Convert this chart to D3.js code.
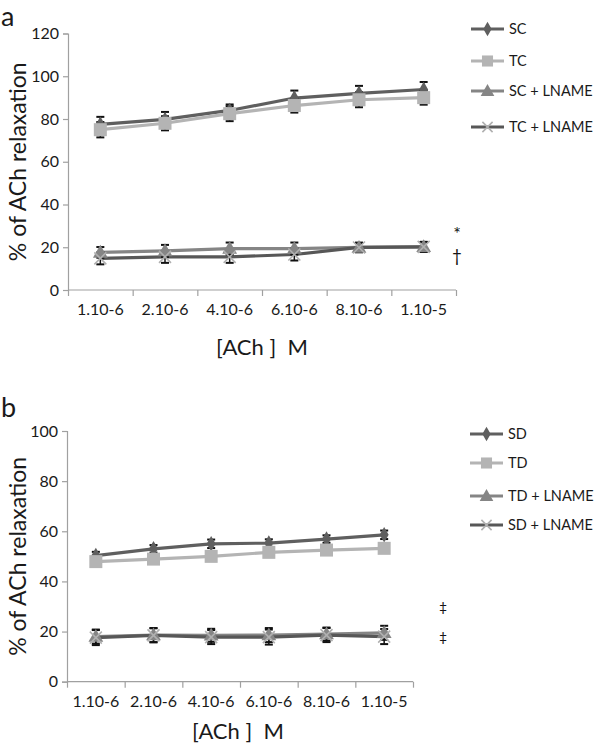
<!DOCTYPE html>
<html><head><meta charset="utf-8">
<script src="https://cdn.jsdelivr.net/npm/d3@7/dist/d3.min.js"></script>
<style>body{margin:0;background:#fff}svg{display:block}text{font-family:Lato,"Open Sans",sans-serif;fill:#1a1a1a}</style>
</head><body><svg id="c" width="600" height="744"></svg>
<script>
const categories = ["1.10-6","2.10-6","4.10-6","6.10-6","8.10-6","1.10-5"];
// Panel a
const aSC = [77.5, 79.8, 84, 89.8, 92, 93.8];
const aSCerr = [3.5, 3.5, 2.8, 3.5, 3.5, 3.5];
const aTC = [75, 78, 82.5, 86.3, 89, 90];
const aTCerr = [3.6, 3.3, 3.5, 3.3, 3.5, 3.3];
const aSCL = [17.6, 18.3, 19.4, 19.4, 19.9, 20.2];
const aSCLerr = [2.5, 2.8, 2.8, 2.8, 2.2, 2.3];
const aTCL = [14.8, 15.5, 15.5, 16.6, 19.9, 20.2];
const aTCLerr = [2.8, 2.8, 2.8, 2.8, 2.2, 2.3];
const aTicks = [0, 20, 40, 60, 80, 100, 120];
// Panel b
const bSD = [50.3, 53, 55, 55.3, 56.9, 58.6];
const bSDerr = [1.5, 1.5, 1.7, 1.5, 1.5, 1.7];
const bTD = [47.9, 48.9, 50, 51.6, 52.5, 53.2];
const bTDerr = [1.2, 1.2, 1.2, 1.2, 1.2, 1.2];
const bTDL = [18, 18.6, 18.5, 18.6, 19, 19.5];
const bTDLerr = [2.8, 2.8, 2.6, 2.8, 2.6, 2.8];
const bSDL = [17.6, 18.5, 17.8, 17.8, 18.6, 18];
const bSDLerr = [3, 2.8, 2.8, 3, 2.8, 3];
const bTicks = [0, 20, 40, 60, 80, 100];

const svg = d3.select("#c");

function panel(cfg) {
  const g = svg.append("g");
  const x = d3.scaleBand().domain(categories).range([cfg.x0, cfg.x1]);
  const xi = d3.scaleLinear().domain([0, categories.length]).range([cfg.x0, cfg.x1]);
  const y = d3.scaleLinear().domain([0, cfg.ymax]).range([cfg.yb, cfg.yt]);

  // y axis
  const ya = g.append("g").attr("transform", `translate(${cfg.x0},0)`)
    .call(d3.axisLeft(y).tickValues(cfg.ticks).tickSize(5).tickPadding(4));
  ya.select(".domain").attr("stroke", "#a0a0a0").attr("stroke-width", 1.2);
  ya.selectAll(".tick line").attr("stroke", "#a0a0a0").attr("stroke-width", 1.2);
  ya.selectAll(".tick text").style("font-size", "16px").style("font-family", "Lato, sans-serif").attr("fill", "#1a1a1a");

  // x axis: boundaries
  const xa = g.append("g").attr("transform", `translate(0,${cfg.yb})`)
    .call(d3.axisBottom(xi).tickValues(d3.range(categories.length + 1)).tickSize(6).tickFormat(""));
  xa.select(".domain").attr("stroke", "#a0a0a0").attr("stroke-width", 1.2).attr("d", `M${cfg.x0},0H${cfg.x1}`);
  xa.selectAll(".tick line").attr("stroke", "#a0a0a0").attr("stroke-width", 1.2);
  const xl = g.append("g").attr("transform", `translate(0,${cfg.yb})`)
    .call(d3.axisBottom(x).tickSize(0).tickPadding(14));
  xl.select(".domain").remove();
  xl.selectAll(".tick text").style("font-size", "16px").style("font-family", "Lato, sans-serif").attr("fill", "#1a1a1a");

  // labels
  g.append("text").attr("x", cfg.labX).attr("y", cfg.labY).text(cfg.letter).style("font-size", "27px");
  g.append("text").attr("transform", `translate(${cfg.ylabX},${(cfg.yb + cfg.yt) / 2 + cfg.ylabDy}) rotate(-90)`)
    .attr("text-anchor", "middle").style("font-size", "23px").text("% of ACh relaxation");
  g.append("text").attr("x", cfg.xtX).attr("y", cfg.xtY).attr("text-anchor", "middle")
    .style("font-size", "22px").attr("xml:space", "preserve").text("[ACh ]  M");

  const cx = (d, i) => x(categories[i]) + x.bandwidth() / 2;
  const line = d3.line().x((d, i) => cx(d, i)).y(d => y(d));

  cfg.series.forEach(s => {
    g.append("path").datum(s.vals).attr("fill", "none").attr("stroke", s.color).attr("stroke-width", 3.2).attr("d", line);
  });
  cfg.series.forEach(s => {
    const eb = g.append("g");
    s.vals.forEach((v, i) => {
      const px = cx(v, i);
      const t = y(v + s.err[i]), b = y(v - s.err[i]);
      eb.append("line").attr("x1", px).attr("x2", px).attr("y1", t).attr("y2", b).attr("stroke", "#111").attr("stroke-width", 1.5);
      eb.append("line").attr("x1", px - 4).attr("x2", px + 4).attr("y1", t).attr("y2", t).attr("stroke", "#111").attr("stroke-width", 2);
      eb.append("line").attr("x1", px - 4).attr("x2", px + 4).attr("y1", b).attr("y2", b).attr("stroke", "#111").attr("stroke-width", 2);
    });
  });
  cfg.series.forEach(s => {
    s.vals.forEach((v, i) => drawMarker(g, s.marker, cx(v, i), y(v), s.mcolor));
  });

  // legend
  cfg.series.forEach((s, k) => {
    const ly = cfg.legY[k];
    g.append("line").attr("x1", cfg.legX).attr("x2", cfg.legX + 33).attr("y1", ly).attr("y2", ly)
      .attr("stroke", s.color).attr("stroke-width", 3.2);
    drawMarker(g, s.marker, cfg.legX + 16.5, ly, s.mcolor, 0.85);
    g.append("text").attr("x", cfg.legX + 38).attr("y", ly).attr("dy", "0.35em").style("font-size", "14.5px").text(s.name);
  });

  cfg.notes.forEach(n => {
    g.append("text").attr("x", n.x).attr("y", n.y).attr("text-anchor", "middle").style("font-size", n.size + "px")
      .style("fill", "#111").text(n.t);
  });
}

function drawMarker(g, type, px, py, color, sc = 1) {
  if (type === "diamond") {
    g.append("path").attr("d", d3.symbol(d3.symbolDiamond, 70 * sc)()).attr("transform", `translate(${px},${py})`).attr("fill", color);
  } else if (type === "square") {
    const s = 13 * sc;
    g.append("rect").attr("x", px - s / 2).attr("y", py - s / 2).attr("width", s).attr("height", s).attr("fill", color);
  } else if (type === "triangle") {
    g.append("path").attr("d", d3.symbol(d3.symbolTriangle, 95 * sc)()).attr("transform", `translate(${px},${py + 1})`).attr("fill", color);
  } else if (type === "x") {
    const s = 6 * sc;
    g.append("path").attr("d", `M${px - s},${py - s}L${px + s},${py + s}M${px - s},${py + s}L${px + s},${py - s}`)
      .attr("stroke", color).attr("stroke-width", 1.6).attr("fill", "none");
  }
}

panel({
  letter: "a", labX: 1, labY: 26,
  x0: 68, x1: 456, yb: 290, yt: 33.5, ymax: 120, ticks: aTicks,
  ylabX: 26, ylabDy: 0, xtX: 262, xtY: 355,
  legX: 471, legY: [29, 61, 91, 127],
  series: [
    { name: "SC", vals: aSC, err: aSCerr, color: "#5f5f5f", mcolor: "#5f5f5f", marker: "diamond" },
    { name: "TC", vals: aTC, err: aTCerr, color: "#b4b4b4", mcolor: "#b4b4b4", marker: "square" },
    { name: "SC + LNAME", vals: aSCL, err: aSCLerr, color: "#858585", mcolor: "#858585", marker: "triangle" },
    { name: "TC + LNAME", vals: aTCL, err: aTCLerr, color: "#575757", mcolor: "#b0b0b0", marker: "x" }
  ],
  notes: [{ t: "*", x: 457, y: 240, size: 18 }, { t: "†", x: 457, y: 262, size: 17 }]
});

panel({
  letter: "b", labX: 1, labY: 417,
  x0: 67, x1: 413, yb: 681.7, yt: 431, ymax: 100, ticks: bTicks,
  ylabX: 26, ylabDy: 0, xtX: 238, xtY: 739,
  legX: 470, legY: [434, 463, 496, 525],
  series: [
    { name: "SD", vals: bSD, err: bSDerr, color: "#5f5f5f", mcolor: "#5f5f5f", marker: "diamond" },
    { name: "TD", vals: bTD, err: bTDerr, color: "#b4b4b4", mcolor: "#b4b4b4", marker: "square" },
    { name: "TD + LNAME", vals: bTDL, err: bTDLerr, color: "#858585", mcolor: "#858585", marker: "triangle" },
    { name: "SD + LNAME", vals: bSDL, err: bSDLerr, color: "#575757", mcolor: "#b0b0b0", marker: "x" }
  ],
  notes: [{ t: "‡", x: 443, y: 612, size: 14 }, { t: "‡", x: 443, y: 642, size: 14 }]
});
</script></body></html>
